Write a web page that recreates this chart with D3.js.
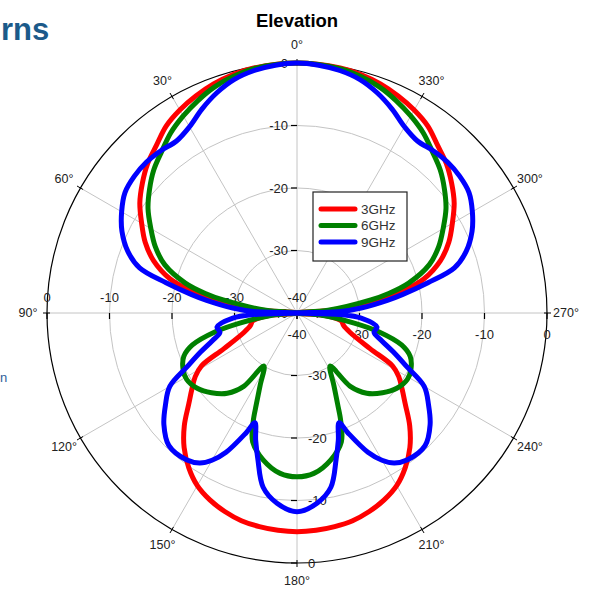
<!DOCTYPE html>
<html><head><meta charset="utf-8">
<script src="https://cdn.jsdelivr.net/npm/d3@7"></script>
<style>
body{margin:0;background:#fff;overflow:hidden;}
text{font-family:"Liberation Sans",Arial,Helvetica,sans-serif;}
</style>
</head><body>
<svg id="chart" width="597" height="590"></svg>
<script>
// ---- data (angle in degrees, counter-clockwise from top; gain in dB) ----
const angles3GHz = [0,10,15,20,25,30,35,40,45,50,55,60,65,70,75,78,80,85,90,95,100,105,110,116,119,122,126,130,135,140,145,150,155,160,165,170,175,180,
  185,190,195,200,205,210,215,220,225,230,234,238,241,244,250,255,260,265,270,275,280,282,285,290,295,300,305,310,315,320,325,330,335,340,345,350];
const gain3GHz = [0,-0.2,-0.5,-1.0,-1.7,-2.5,-3.5,-5.0,-6.2,-7.7,-9.3,-11.3,-13.2,-15.6,-19.0,-22.5,-26,-33,-40,-35.5,-32.8,-32.3,-31,-27,-22.5,-20.8,-19.2,-17.4,-14.5,-11.9,-9.8,-8.1,-7.0,-6.2,-5.6,-5.3,-5.1,-5.0,
  -5.1,-5.3,-5.6,-6.2,-7.0,-8.1,-9.8,-11.9,-14.5,-17.4,-19.2,-20.8,-22.5,-27,-31,-32.3,-32.8,-35.5,-40,-33,-26,-22.5,-19.0,-15.6,-13.2,-11.3,-9.3,-7.7,-6.2,-5.0,-3.5,-2.5,-1.7,-1.0,-0.5,-0.2];

const angles6GHz = [0,10,15,20,25,30,35,40,45,50,55,60,65,70,75,78,80,85,90,95,100,103,107,111,116,121,127,133,139,144,148,153,156,158,161,167,174,180,
  186,193,199,202,204,207,212,216,221,227,233,239,244,249,253,257,260,265,270,275,280,282,285,290,295,300,305,310,315,320,325,330,335,340,345,350];
const gain6GHz = [0,-0.3,-0.8,-1.5,-2.5,-3.6,-4.8,-6.3,-7.6,-9.2,-10.9,-13.0,-15.0,-17.5,-21.5,-25,-28,-35,-40,-36,-30.7,-26.5,-22.5,-20.6,-19.7,-19.4,-20.0,-21.3,-23.0,-25.5,-30,-27,-24,-21.3,-18.2,-15.9,-14.2,-13.8,
  -14.2,-15.9,-18.2,-21.3,-24,-27,-30,-25.5,-23.0,-21.3,-20.0,-19.4,-19.7,-20.6,-22.5,-26.5,-30.7,-36,-40,-35,-28,-25,-21.5,-17.5,-15.0,-13.0,-10.9,-9.2,-7.6,-6.3,-4.8,-3.6,-2.5,-1.5,-0.8,-0.3];

const angles9GHz = [0,5,10,15,20,25,30,35,40,45,50,55,60,65,70,74,77,80,82,85.5,88,90,92,94.5,100,104,108,112,116,120,125,130,136,143,147,150,153,157,159,162,165,169,174,180,
  186,191,195,198,201,203,207,210,213,217,224,230,235,240,244,248,252,256,260,265.5,268,270,272,274.5,278,280,283,286,290,295,300,305,310,315,320,325,330,335,340,345,350,355];
const gain9GHz = [0,-0.2,-0.6,-1.3,-2.5,-4.0,-5.6,-6.4,-6.1,-5.9,-6.0,-6.4,-7.6,-9.1,-11.2,-13.8,-18.5,-22.8,-25.4,-29.7,-33,-40,-33,-29.7,-27.0,-27.3,-25.8,-23.4,-20.5,-16.5,-14.3,-12.2,-10.5,-10.6,-11.4,-12.8,-15.0,-19.2,-21.2,-18.6,-15.8,-11.6,-9.4,-8.2,
  -9.4,-11.6,-15.8,-18.6,-21.2,-19.2,-15.0,-12.8,-11.4,-10.6,-10.5,-12.2,-14.3,-16.5,-20.5,-23.4,-25.8,-27.3,-27.0,-29.7,-33,-40,-33,-29.7,-25.4,-22.8,-18.5,-13.8,-11.2,-9.1,-7.6,-6.4,-6.0,-5.9,-6.1,-6.4,-5.6,-4.0,-2.5,-1.3,-0.6,-0.2];

const seriesNames = ["3GHz","6GHz","9GHz"];
const seriesColors = ["#ff0000","#008000","#0000ff"];
const angleTicks = [0,30,60,90,120,150,180,210,240,270,300,330];
const angleTickLabels = ["0°","30°","60°","90°","120°","150°","180°","210°","240°","270°","300°","330°"];
const radialTicks = [0,-10,-20,-30,-40];
const radialTickLabels = ["0","-10","-20","-30","-40"];
const chartTitle = "Elevation";
const slideFragments = ["rns","n"];

// ---- drawing ----
const svg = d3.select("#chart");
const cx = 297, cy = 313, R = 250;
const rScale = d3.scaleLinear().domain([-40, 0]).range([0, R]);
const aScale = d3.scaleLinear().domain([0, 360]).range([0, -2 * Math.PI]);
const px = (deg, rad) => -rad * Math.sin(deg * Math.PI / 180);
const py = (deg, rad) => -rad * Math.cos(deg * Math.PI / 180);

// slide fragments visible in the reference
svg.append("text").attr("x", 1).attr("y", 40)
  .attr("font-size", 31).attr("font-weight", "bold").attr("fill", "#1b5a8a").text(slideFragments[0]);
svg.append("text").attr("x", 0).attr("y", 382)
  .attr("font-size", 13).attr("fill", "#2f5f9a").text(slideFragments[1]);

svg.append("text").attr("x", 297).attr("y", 27).attr("text-anchor", "middle")
  .attr("font-size", 18.5).attr("font-weight", "bold").attr("fill", "#000").text(chartTitle);

const g = svg.append("g").attr("transform", `translate(${cx},${cy})`);

// grid rings
g.selectAll("circle.ring").data(radialTicks.filter(v => v > -40 && v < 0)).join("circle")
  .attr("class", "ring").attr("r", d => rScale(d))
  .attr("fill", "none").attr("stroke", "#c4c4c4").attr("stroke-width", 1);

// spokes
g.selectAll("line.spoke").data(angleTicks).join("line")
  .attr("class", "spoke").attr("x1", 0).attr("y1", 0)
  .attr("x2", d => px(d, R)).attr("y2", d => py(d, R))
  .attr("stroke", "#c4c4c4").attr("stroke-width", 1);

// outer circle
g.append("circle").attr("r", R).attr("fill", "none").attr("stroke", "#000").attr("stroke-width", 1.2);

// angular ticks
g.selectAll("line.atick").data(angleTicks).join("line")
  .attr("class", "atick")
  .attr("x1", d => px(d, R - 3)).attr("y1", d => py(d, R - 3))
  .attr("x2", d => px(d, R + 4)).attr("y2", d => py(d, R + 4))
  .attr("stroke", "#000").attr("stroke-width", 1);

// angular labels
g.selectAll("text.alabel").data(angleTicks).join("text")
  .attr("class", "alabel")
  .attr("x", d => px(d, 269)).attr("y", d => py(d, 268))
  .attr("text-anchor", "middle").attr("dominant-baseline", "central")
  .attr("font-size", 12.5).attr("fill", "#222")
  .text((d, i) => angleTickLabels[i]);

// radial axis ticks & labels (four directions)
const tickStyle = sel => sel.attr("stroke", "#000").attr("stroke-width", 1.2);
radialTicks.forEach((v, i) => {
  const rr = rScale(v);
  const lab = radialTickLabels[i];
  tickStyle(g.append("line").attr("x1", -6).attr("x2", 0).attr("y1", -rr).attr("y2", -rr));
  g.append("text").attr("x", -9).attr("y", -rr).attr("text-anchor", "end")
    .attr("dominant-baseline", "central").attr("font-size", 13).attr("fill", "#222").text(lab);
  tickStyle(g.append("line").attr("x1", -6).attr("x2", 0).attr("y1", rr).attr("y2", rr));
  g.append("text").attr("x", 11).attr("y", rr).attr("text-anchor", "start")
    .attr("dominant-baseline", "central").attr("font-size", 13).attr("fill", "#222").text(lab);
  tickStyle(g.append("line").attr("x1", -rr).attr("x2", -rr).attr("y1", 0).attr("y2", 6));
  g.append("text").attr("x", -rr).attr("y", -16).attr("text-anchor", "middle")
    .attr("dominant-baseline", "central").attr("font-size", 13).attr("fill", "#222").text(lab);
  tickStyle(g.append("line").attr("x1", rr).attr("x2", rr).attr("y1", 0).attr("y2", 6));
  g.append("text").attr("x", rr).attr("y", 21).attr("text-anchor", "middle")
    .attr("dominant-baseline", "central").attr("font-size", 13).attr("fill", "#222").text(lab);
});

// curves
const series = [
  {name: seriesNames[0], color: seriesColors[0], pts: angles3GHz.map((a, i) => [a, gain3GHz[i]])},
  {name: seriesNames[1], color: seriesColors[1], pts: angles6GHz.map((a, i) => [a, gain6GHz[i]])},
  {name: seriesNames[2], color: seriesColors[2], pts: angles9GHz.map((a, i) => [a, gain9GHz[i]])}
];
const line = d3.lineRadial()
  .angle(d => aScale(d[0]))
  .radius(d => rScale(d[1]))
  .curve(d3.curveCatmullRomClosed.alpha(0.5));
g.selectAll("path.series").data(series).join("path")
  .attr("class", "series")
  .attr("d", d => line(d.pts))
  .attr("fill", "none").attr("stroke", d => d.color)
  .attr("stroke-width", 5).attr("stroke-linejoin", "round");

// legend
const lg = svg.append("g").attr("transform", "translate(313,192)");
lg.append("rect").attr("width", 94).attr("height", 69).attr("fill", "#fff")
  .attr("stroke", "#222").attr("stroke-width", 1.2);
series.forEach((s, i) => {
  const y = 17 + i * 16.5;
  lg.append("line").attr("x1", 8).attr("x2", 42).attr("y1", y).attr("y2", y)
    .attr("stroke", s.color).attr("stroke-width", 5).attr("stroke-linecap", "round");
  lg.append("text").attr("x", 48).attr("y", y).attr("dominant-baseline", "central")
    .attr("font-size", 13.5).attr("fill", "#333").text(s.name);
});
</script>
</body></html>
